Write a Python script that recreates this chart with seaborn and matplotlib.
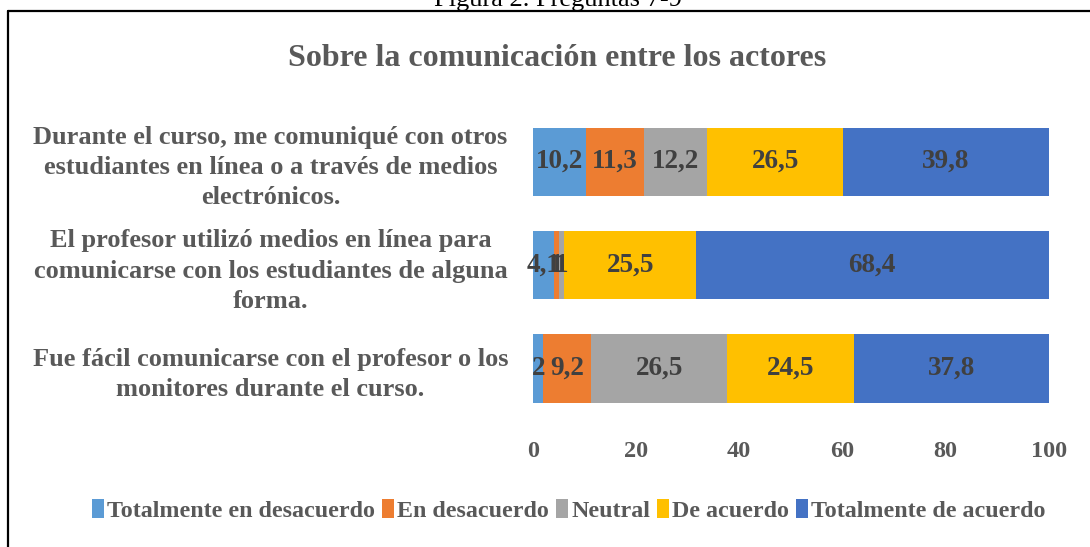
import numpy as np
import pandas as pd
import matplotlib
matplotlib.use("Agg")
import matplotlib.pyplot as plt
import seaborn as sns
from matplotlib.lines import Line2D
from matplotlib.patches import Patch

# --- Data ---
questions = [
    "Durante el curso, me comuniqué con otros\nestudiantes en línea o a través de medios\nelectrónicos.",
    "El profesor utilizó medios en línea para\ncomunicarse con los estudiantes de alguna\nforma.",
    "Fue fácil comunicarse con el profesor o los\nmonitores durante el curso.",
]
categories = ["Totalmente en desacuerdo", "En desacuerdo", "Neutral",
              "De acuerdo", "Totalmente de acuerdo"]
tot_desacuerdo = [10.2, 4.1, 2.0]
desacuerdo = [11.3, 1.0, 9.2]
neutral = [12.2, 1.0, 26.5]
de_acuerdo = [26.5, 25.5, 24.5]
tot_acuerdo = [39.8, 68.4, 37.8]
colors = ["#5B9BD5", "#ED7D31", "#A5A5A5", "#FFC000", "#4472C4"]

title = "Sobre la comunicación entre los actores"
caption = "Figura 2. Preguntas 7-9"
x_ticks = [0, 20, 40, 60, 80, 100]

# --- Build table ---
df = pd.DataFrame({
    "pregunta": questions,
    categories[0]: tot_desacuerdo,
    categories[1]: desacuerdo,
    categories[2]: neutral,
    categories[3]: de_acuerdo,
    categories[4]: tot_acuerdo,
})
cum = df[categories].cumsum(axis=1)

sns.set_style("white")
plt.rcParams["font.family"] = ["Liberation Serif", "DejaVu Serif"]
plt.rcParams["font.weight"] = "bold"
text_col = "#595959"
label_col = "#404040"

fig = plt.figure(figsize=(10.9, 5.47), dpi=100)
ax = fig.add_axes([0.489, 0.232, 0.473, 0.567])

# stacked bars: draw cumulative totals from the widest down
for cat, col in reversed(list(zip(categories, colors))):
    sns.barplot(x=cum[cat], y=df["pregunta"], orient="h", color=col,
                saturation=1, width=0.66, linewidth=0, ax=ax)

# segment labels
for i in range(len(df)):
    start = 0
    for cat in categories:
        v = df.loc[i, cat]
        ax.text(start + v / 2, i, f"{v:g}".replace(".", ","), ha="center",
                va="center", fontsize=19.5, fontweight="bold", color=label_col)
        start += v

ax.set_xlim(0, 100)
ax.set_ylim(2.5, -0.5)
ax.set_xticks(x_ticks)
ax.set_xlabel("")
ax.set_ylabel("")
ax.tick_params(axis="x", length=0, pad=15, labelsize=17.5, labelcolor=text_col)
ax.tick_params(axis="y", length=0, pad=189, labelsize=19, labelcolor=text_col)
for lab in ax.get_yticklabels():
    lab.set_ha("center")
    lab.set_multialignment("center")
    lab.set_linespacing(1.4)
for lab in ax.get_xticklabels() + ax.get_yticklabels():
    lab.set_fontweight("bold")
sns.despine(ax=ax, left=True, bottom=True)
ax.grid(False)

fig.text(0.511, 0.893, title, ha="center", va="center", fontsize=23,
         fontweight="bold", color=text_col)

handles = [Patch(facecolor=c, edgecolor="none") for c in colors]
fig.legend(handles, categories, loc="center", bbox_to_anchor=(0.522, 0.067),
           ncol=5, frameon=False, handlelength=0.5, handleheight=0.85,
           handletextpad=0.12, columnspacing=0.3,
           prop={"size": 17.3, "weight": "bold"}, labelcolor=text_col)

# caption (cut off by the top edge) and page frame
fig.text(0.512, 1 - 6 / 547, caption, ha="center", va="baseline",
         fontsize=19, fontweight="normal", color="black")
fig.add_artist(Line2D([8 / 1090, 1], [1 - 11 / 547, 1 - 11 / 547],
                      transform=fig.transFigure, color="black", lw=1.6))
fig.add_artist(Line2D([8 / 1090, 8 / 1090], [0, 1 - 11 / 547],
                      transform=fig.transFigure, color="black", lw=1.6))

fig.savefig("out.png", dpi=100)
